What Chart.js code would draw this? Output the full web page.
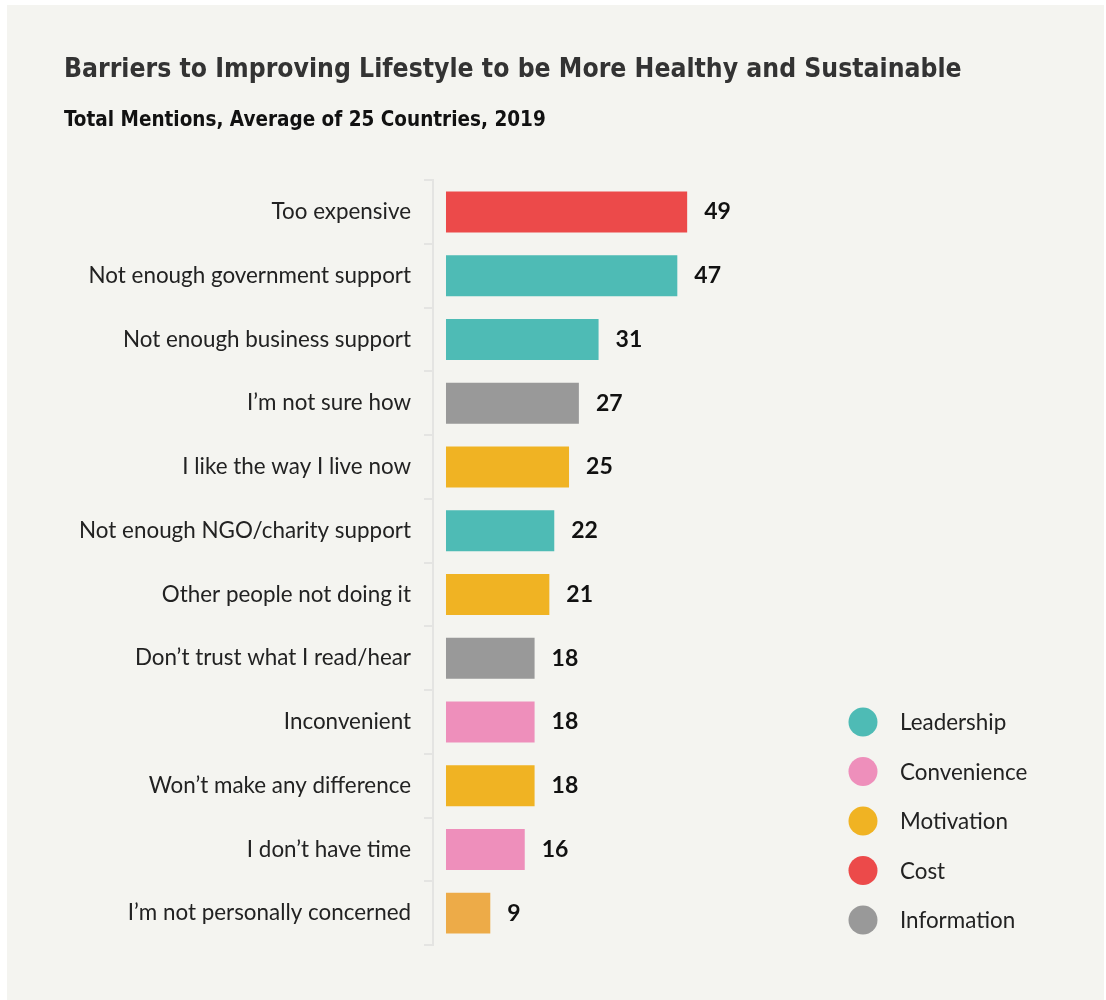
<!DOCTYPE html>
<html>
<head>
<meta charset="utf-8">
<script src="https://cdn.jsdelivr.net/npm/chart.js@4.4.1/dist/chart.umd.min.js"></script>
<style>
  html, body { margin: 0; padding: 0; background: #ffffff; }
  #wrap { position: relative; width: 1106px; height: 1000px; }
  canvas { display: block; }
</style>
</head>
<body>
<div id="wrap"><canvas id="c" width="1106" height="1000"></canvas></div>
<script>
// ---------- DATA ----------
const categories = [
  "Too expensive",
  "Not enough government support",
  "Not enough business support",
  "I\u2019m not sure how",
  "I like the way I live now",
  "Not enough NGO/charity support",
  "Other people not doing it",
  "Don\u2019t trust what I read/hear",
  "Inconvenient",
  "Won\u2019t make any difference",
  "I don\u2019t have time",
  "I\u2019m not personally concerned"
];
const values = [49, 47, 31, 27, 25, 22, 21, 18, 18, 18, 16, 9];
const barGroups = [
  "Cost", "Leadership", "Leadership", "Information", "Motivation", "Leadership",
  "Motivation", "Information", "Convenience", "Motivation", "Convenience", "Motivation"
];
const legendGroups = ["Leadership", "Convenience", "Motivation", "Cost", "Information"];
const titleText = "Barriers to Improving Lifestyle to be More Healthy and Sustainable";
const subtitleText = "Total Mentions, Average of 25 Countries, 2019";

// ---------- STYLES ----------
const groupColors = {
  Leadership: "#4EBBB5",
  Convenience: "#EE8FBB",
  Motivation: "#F0B323",
  Cost: "#EC4A4A",
  Information: "#999999"
};
const barColorOverride = { "I\u2019m not personally concerned": "#EDAB48" };

function pickFont(list) {
  const cv = document.createElement('canvas').getContext('2d');
  const s = 'Barriers to Improving Lifestyle 0123';
  cv.font = '30px monospace';
  const mono = cv.measureText(s).width;
  cv.font = '30px serif';
  const serif = cv.measureText(s).width;
  for (const f of list) {
    cv.font = '30px "' + f + '", monospace';
    const a = cv.measureText(s).width;
    cv.font = '30px "' + f + '", serif';
    const b = cv.measureText(s).width;
    if (a !== mono || b !== serif) return f;
  }
  return 'Lato';
}
const condFont = pickFont(['Liberation Sans Narrow', 'DejaVu Sans Condensed', 'Roboto Condensed', 'Open Sans Condensed', 'Lato']);
const baseFont = 'Lato';

function fitSize(text, weight, family, targetW) {
  const cv = document.createElement('canvas').getContext('2d');
  cv.font = weight + ' 30px "' + family + '"';
  return Math.round(30 * targetW / cv.measureText(text).width * 10) / 10;
}
const titleSize = fitSize(titleText, 'bold', condFont, 898);
const subtitleSize = fitSize(subtitleText, 'bold', condFont, 481);
const labelSize = fitSize("Not enough government support", 'normal', baseFont, 323);
const legendSize = fitSize("Leadership", 'normal', baseFont, 106);

const datasets = legendGroups.map(g => ({
  label: g,
  data: values.map((v, i) => barGroups[i] === g ? v : null),
  backgroundColor: categories.map((c, i) => (barColorOverride[c] && barGroups[i] === g) ? barColorOverride[c] : groupColors[g]),
  borderWidth: 0,
  categoryPercentage: 1,
  barPercentage: 0.643
}));

const bgPlugin = {
  id: 'cardBg',
  beforeDraw(chart) {
    const ctx = chart.ctx;
    ctx.save();
    ctx.fillStyle = '#ffffff';
    ctx.fillRect(0, 0, chart.width, chart.height);
    ctx.fillStyle = '#F4F4F0';
    ctx.fillRect(7, 5, chart.width - 9, chart.height - 5);
    ctx.restore();
  }
};

const valueLabels = {
  id: 'valueLabels',
  afterDatasetsDraw(chart) {
    const ctx = chart.ctx;
    ctx.save();
    ctx.font = 'bold 23px ' + baseFont;
    ctx.fillStyle = '#111111';
    ctx.textAlign = 'left';
    ctx.textBaseline = 'middle';
    chart.data.datasets.forEach((ds, di) => {
      const meta = chart.getDatasetMeta(di);
      meta.data.forEach((el, i) => {
        const v = ds.data[i];
        if (v === null || v === undefined) return;
        ctx.fillText(String(v), el.x + 17, el.y);
      });
    });
    ctx.restore();
  }
};

const customLegend = {
  id: 'customLegend',
  afterDraw(chart) {
    const ctx = chart.ctx;
    const ca = chart.chartArea;
    ctx.save();
    ctx.font = legendSize + 'px ' + baseFont;
    ctx.textBaseline = 'middle';
    ctx.textAlign = 'left';
    const step = 49.5;
    const cx = 863;
    const lastY = ca.bottom - 25;
    legendGroups.forEach((g, i) => {
      const y = lastY - (legendGroups.length - 1 - i) * step;
      ctx.fillStyle = groupColors[g];
      ctx.beginPath();
      ctx.arc(cx, y, 14.5, 0, Math.PI * 2);
      ctx.fill();
      ctx.fillStyle = '#222222';
      ctx.fillText(g, cx + 37, y + 1);
    });
    ctx.restore();
  }
};

new Chart(document.getElementById('c'), {
  type: 'bar',
  data: { labels: categories, datasets },
  plugins: [bgPlugin, valueLabels, customLegend],
  options: {
    indexAxis: 'y',
    responsive: false,
    animation: false,
    layout: { padding: { left: 64, right: 0, top: 0, bottom: 55 } },
    plugins: {
      legend: { display: false },
      tooltip: { enabled: false },
      title: {
        display: true,
        text: titleText,
        align: 'start',
        color: '#333333',
        font: { family: condFont, size: titleSize, weight: 'bold' },
        padding: { top: 54, bottom: 23 }
      },
      subtitle: {
        display: true,
        text: subtitleText,
        align: 'start',
        color: '#111111',
        font: { family: condFont, size: subtitleSize, weight: 'bold' },
        padding: { top: 0, bottom: 47 }
      }
    },
    scales: {
      x: {
        display: false,
        stacked: true,
        min: -2.64,
        max: 134.1
      },
      y: {
        stacked: true,
        offset: true,
        afterFit(scale) { scale.width = 433 - 64; },
        border: { display: true, color: '#E4E4E2', width: 2 },
        grid: {
          display: true,
          offset: true,
          drawOnChartArea: false,
          drawTicks: true,
          tickLength: 9,
          color: '#E4E4E2',
          lineWidth: 2
        },
        ticks: {
          padding: 13,
          color: '#222222',
          font: { family: baseFont, size: labelSize }
        }
      }
    }
  }
});
</script>
</body>
</html>
